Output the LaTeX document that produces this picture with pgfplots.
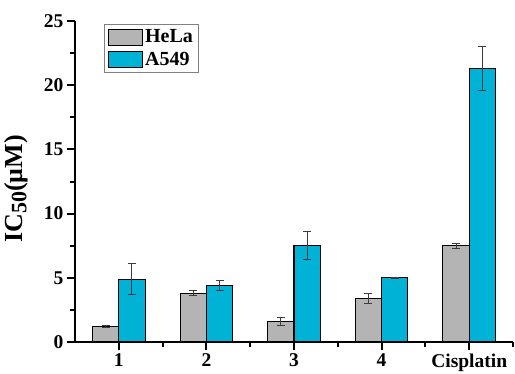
\documentclass[border=0pt]{standalone}
\usepackage{fontspec}
\setmainfont{Liberation Serif}
\usepackage{pgfplots}
\pgfplotsset{compat=1.18}
\definecolor{hela}{RGB}{180,180,180}
\definecolor{acyan}{RGB}{0,178,214}
\definecolor{errc}{RGB}{60,60,60}
\begin{document}
\begin{tikzpicture}
\begin{axis}[
  scale only axis, width=438pt, height=321pt,
  xmin=0.5, xmax=5.5, ymin=0, ymax=25,
  ybar,
  axis x line=bottom, axis y line=left,
  axis line style={-, line width=2.2pt},
  xtick={1,2,3,4,5}, xticklabels={1,2,3,4,Cisplatin},
  minor xtick={1.5,2.5,3.5,4.5,5.5},
  ytick={0,5,10,15,20,25}, minor ytick={2.5,7.5,12.5,17.5,22.5},
  tick align=outside, major tick length=8pt, minor tick length=4.5pt,
  every tick/.style={black, line width=2pt},
  tick label style={font=\fontsize{19.5}{22}\selectfont\bfseries},
  /pgf/number format/assume math mode=true,
  ylabel={IC\raisebox{-0.35ex}{\fontsize{22}{22}\selectfont 50}(μM)},
  ylabel style={font=\fontsize{26}{28}\selectfont\bfseries, at={(axis description cs:-0.135,0.477)}, anchor=center},
  legend style={at={(axis description cs:0.066,0.99)}, anchor=north west, draw=gray, line width=0.8pt,
    font=\fontsize{20}{22}\selectfont\bfseries, inner xsep=4pt, inner ysep=3pt, row sep=4pt, cells={anchor=west}},
  legend image code/.code={\draw[#1, draw=black, line width=0.8pt] (0pt,-8pt) rectangle (34pt,8pt);},
]
\addplot[fill=hela, draw=black, line width=1.1pt, bar width=0.3, bar shift=-0.15,
  error bars/.cd, y dir=both, y explicit,
  error bar style={errc, line width=0.9pt},
  error mark options={rotate=90, mark size=4pt, errc, line width=0.9pt}]
  coordinates {(1,1.2) +- (0,0.06) (2,3.8) +- (0,0.2) (3,1.6) +- (0,0.3) (4,3.4) +- (0,0.4) (5,7.5) +- (0,0.2)};
\addplot[fill=acyan, draw=black, line width=1.1pt, bar width=0.3, bar shift=0.15,
  error bars/.cd, y dir=both, y explicit,
  error bar style={errc, line width=0.9pt},
  error mark options={rotate=90, mark size=4pt, errc, line width=0.9pt}]
  coordinates {(1,4.9) +- (0,1.2) (2,4.4) +- (0,0.4) (3,7.5) +- (0,1.1) (4,5.0) +- (0,0.06) (5,21.3) +- (0,1.7)};
\legend{HeLa, A549}
\end{axis}
\pgfresetboundingbox
\path[use as bounding box] (current axis.south west) ++(-75pt,-31pt) rectangle ++(515pt,373pt);
\end{tikzpicture}
\end{document}
